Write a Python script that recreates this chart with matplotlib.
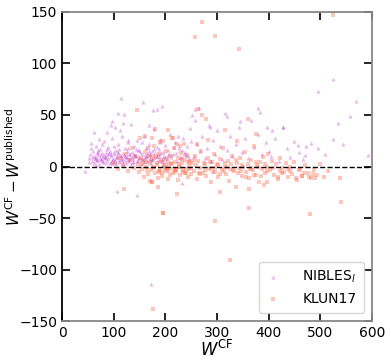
import matplotlib
matplotlib.use("Agg")
import matplotlib.pyplot as plt
import numpy as np

# NIBLES_l points (W_CF, W_CF - W_published)
nibles_x = [52, 55, 58, 60, 62, 64, 66, 68, 70, 72, 74, 76, 78, 80, 82, 84, 86, 88, 90, 92,
            94, 96, 98, 100, 102, 104, 106, 108, 110, 112, 114, 116, 118, 120, 122, 124, 126, 128, 130,
            53, 57, 61, 65, 69, 73, 77, 81, 85, 89, 93, 97, 101, 105, 109, 113, 117, 121, 125, 129,
            56, 63, 71, 79, 87, 95, 103, 111, 119, 127,
            114, 157, 120, 176, 184, 193, 96, 134, 94, 62, 108,
            132, 135, 138, 140, 142, 145, 148, 150, 152, 155, 158, 160, 162, 165, 168, 170, 172, 175,
            178, 180, 183, 186, 189, 192, 195, 198, 200, 203, 206, 210, 214, 218, 222, 226, 230, 234,
            238, 242, 246, 250,
            134, 139, 144, 149, 154, 159, 164, 169, 174, 179, 184, 190, 196, 202, 208, 216, 224, 232,
            240, 248,
            105, 115, 125, 135, 145, 155, 165, 175, 185, 195, 110, 120, 130, 140, 150, 160, 170, 180,
            190, 200, 75, 85, 95, 65, 100, 90, 80, 70,
            58, 67, 76, 83, 91, 99, 107, 116, 123, 131, 137, 143, 151, 157, 163, 171, 177, 187,
            194, 205, 212, 220, 228, 236, 244, 68, 88, 108, 128, 148, 168, 188, 98, 118, 138,
            255, 258, 262, 265, 268, 272, 276, 280, 284, 288, 292, 296, 300, 305, 310, 315, 320, 325,
            330, 336, 342, 348, 355, 360, 366, 372, 380, 388, 395, 400,
            257, 319, 344, 379, 383, 286, 397, 428, 406, 251,
            405, 412, 420, 428, 435, 442, 450, 458, 466, 472, 482, 495, 495, 510, 524, 524, 534, 544,
            557, 569, 592, 457, 470,
            45, 106, 145, 172, 232]
nibles_y = [8, 12, 5, 15, 3, 9, 20, 6, 11, 2, 17, 7, 13, 4, 25, 9, 14, 6, 19, 3,
            10, 28, 7, 12, 5, 16, 9, 22, 4, 11, 7, 30, 13, 6, 18, 3, 9, 24, 12,
            4, 18, 10, 1, 14, 8, 22, 11, 3, 8, 15, 5, 20, 2, 13, 35, 8, 10, 15, 5,
            23, 7, 27, 9, 33, 12, 38, 17, 42, 26,
            66, 63, 51, 55, 56, 59, 44, 41, 40, 33, 52,
            8, 14, 4, 20, 10, 26, 6, 16, 2, 12, 30, 8, 18, 5, 22, 11, 3, 15,
            36, 9, 19, 6, 27, 13, 2, 10, 21, 7, 16, 32, 12, 24, 5, 18, 9, 28,
            14, 20, 7, 25,
            2, 11, 17, 9, 24, 4, 13, 40, 7, 17, 10, 24, 14, 4, 12, 19, 30, 16,
            11, 37,
            8, 10, 6, 9, 5, 7, 10, 6, 12, 8, 6, 11, 7, 12, 8, 11, 7, 13,
            5, 9, 6, 10, 4, 8, 14, 12, 5, 16,
            9, 6, 11, 8, 13, 7, 10, 5, 9, 12, 7, 10, 14, 6, 9, 12, 8, 10,
            6, 11, 9, 13, 8, 12, 10, 13, 17, 14, 18, 16, 15, 17, 3, 2, 4,
            10, 45, 22, 57, 15, 30, 8, 18, 40, 5, 26, 12, 35, 20, 7, 52, 16, 30,
            10, 22, 38, 14, 28, 8, 45, 19, 32, 12, 24, 15,
            56, 49, 44, 57, 53, 38, 38, 38, 35, 50,
            10, 28, 5, 38, 18, 9, 25, 14, 7, 20, 23, 18, 73, 12, 27, 85, 42, 22,
            49, 64, 11, 21, 11,
            -4, -24, -28, -114, -16]

# KLUN17 points
klun_x = [102, 108, 112, 118, 120, 124, 128, 132, 136, 140, 144, 148,
          150, 152, 155, 158, 160, 162, 165, 168, 170, 172, 174, 176, 178, 180, 182, 184, 186, 188,
          190, 192, 194, 196, 196, 198, 200, 202, 204, 206, 208, 210, 212, 214, 216, 218, 220, 222,
          224, 226, 228, 230, 232, 234, 236, 238, 240, 242, 244, 246, 248, 250,
          154, 163, 171, 179, 187, 195, 203, 211, 219, 227, 235, 243, 157, 167, 177, 185, 193, 201,
          209, 217, 225, 233, 241, 249,
          160, 175, 190, 205, 215, 228, 145, 180, 151, 166,
          252, 255, 258, 261, 264, 267, 270, 273, 276, 279, 282, 285, 288, 291, 294, 297, 300, 303,
          306, 309, 312, 315, 318, 321, 324, 327, 330, 333, 336, 339, 342, 345, 348, 351, 354, 357,
          360, 363, 366, 369, 372, 375, 378, 381, 384, 387, 390, 393, 396, 399,
          256, 266, 276, 286, 296, 306, 316, 326, 336, 346, 356, 366, 376, 386, 396, 262, 283, 305,
          338, 362, 392,
          183, 199, 213, 229, 245, 259, 274, 289, 302, 319, 331, 349, 364, 379, 394, 408, 423, 437,
          172, 188, 206, 221, 239, 268, 293, 313, 341, 371,
          271, 257, 296, 343, 524, 296, 325, 362, 480, 540, 177, 263, 271, 278, 316, 376, 360, 213,
          222, 196, 174,
          402, 406, 410, 414, 418, 422, 426, 430, 434, 438, 442, 446, 450, 455, 460, 465, 470, 476,
          482, 488, 494, 500, 508, 516, 538, 486, 490, 478, 464, 453, 469, 459, 441, 426, 418, 397]
klun_y = [3, -2, 8, 1, -22, 12, -4, 6, 18, -1, 10, 2,
          -5, 8, 2, -10, 14, 4, -3, 10, -14, 6, -15, 0, 20, -6, 9, 3, -20, 12,
          -2, 6, -9, 25, -45, 1, -4, 15, 7, -12, 2, -1, 10, -6, 18, 4, -3, -27,
          8, 0, -8, 13, 3, -5, 22, 6, -2, 11, -10, 1, 5, -7,
          -2, 0, 3, -1, -4, 4, -2, 3, -5, 2, -3, 4, 6, -7, 10, -11, -6, 0,
          -8, -2, -13, 7, -6, -1,
          30, 28, 24, 35, 28, 20, 55, 36, 28, 18,
          3, -4, 10, -12, 5, -1, 15, -6, 2, -9, 8, -2, -15, 4, 12, -5, 1, -10,
          7, -3, 18, 0, -7, 5, -14, 2, 10, -4, -20, 3, -1, 8, -9, 0, 14, -5,
          2, -11, 6, -3, 20, -8, 1, -15, 4, -2, 9, -6, 0, 12,
          6, -6, -3, 4, -1, -7, 3, -2, 6, -4, -10, -1, 4, -9, -4, 22, 26, -25,
          25, -22, -18,
          1, -1, 2, 0, -2, 1, 3, -1, 2, 0, -3, 1, -2, 0, 2, -1, -4, -2,
          -3, -5, -4, -3, -6, -7, -5, -4, -6, -8,
          140, 126, 127, 114, 147, -53, -91, -40, -46, -34, -138, 56, 50, 46, 35, 32, 46, 28,
          22, -45, -15,
          -3, 5, -8, 2, -12, 8, -1, -5, 3, -10, 0, -7, 4, -13, -2, -9, 1, -6,
          -11, -3, -8, 2, -10, -4, -11, -7, -11, -10, -9, -11, -6, -3, -4, -6, -10, -15]

fig = plt.figure(figsize=(3.91, 3.6), dpi=100)
ax = fig.add_axes([0.1586, 0.108, 0.7925, 0.859])

ax.scatter(nibles_x, nibles_y, marker="^", s=9, color="#c040d0", alpha=0.35,
           linewidths=0, label=r"NIBLES$_l$")
ax.scatter(klun_x, klun_y, marker="s", s=9, color="#ff6040", alpha=0.35,
           linewidths=0, label="KLUN17")
ax.axhline(0, color="k", ls="--", lw=1)

ax.set_xlim(0, 600)
ax.set_ylim(-150, 150)
ax.set_xticks(np.arange(0, 601, 100))
ax.set_yticks(np.arange(-150, 151, 50))
ax.tick_params(direction="in", length=6, width=1.2, top=True, right=True, labelsize=10)
for side in ["top", "right", "bottom"]:
    ax.spines[side].set_color("#888888")
ax.spines["left"].set_color("k")
for sp in ax.spines.values():
    sp.set_linewidth(1.3)

ax.set_xlabel(r"$W^{\rm CF}$", fontsize=12, labelpad=0)
ax.set_ylabel(r"$W^{\rm CF} - W^{\rm published}$", fontsize=11)
ax.yaxis.set_label_coords(-0.125, 0.5)
ax.legend(loc="lower right", fontsize=10, handlelength=1.0, handletextpad=1.6,
          borderpad=0.5, labelspacing=0.5, borderaxespad=0.6)

fig.savefig("out.png", dpi=100)
